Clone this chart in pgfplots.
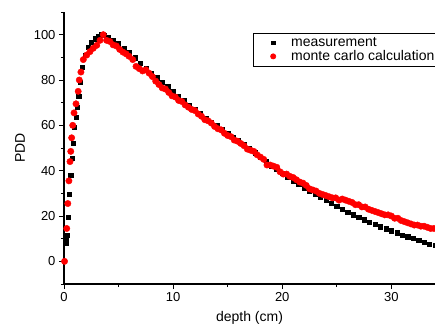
\documentclass[border=0pt]{standalone}
\usepackage{fontspec}
\setmainfont{Liberation Sans}
\usepackage{pgfplots}
\usepackage{pgfplotstable}
\pgfplotsset{compat=1.18}
\pgfplotstableread{
x y
0.15 8
0.22 10
0.3 11.5
0.4 19.5
0.5 29.5
0.62 38
0.75 45.5
0.85 52
0.95 59
1.1 63.5
1.22 68
1.35 73
1.5 79
1.68 85.5
1.92 91
2.2 94.5
2.5 96.7
2.84 98.2
3.1 99.3
3.4 100
3.7 99.6
4.0 99
4.5 97.5
5.0 96
5.5 94
6.0 92
6.5 89.8
7.0 87.5
7.5 85.3
8.0 83
8.5 81
9.0 79
9.5 77
10.0 75
10.5 73
11.0 71
11.5 69
12.0 67
12.5 65.1
13.0 63.2
13.5 61.5
14.0 59.8
14.5 58.1
15.0 56.5
15.5 54.8
16.0 53.2
16.5 51.5
17.0 49.8
17.5 47.9
18.0 45.8
18.5 44
19.0 42.2
19.5 40.5
20.0 38.8
20.5 37.1
21.0 35.5
21.5 33.9
22.0 32.4
22.5 31
23.0 29.6
23.5 28.2
24.0 26.8
24.5 25.5
25.0 24.2
25.5 23
26.0 21.8
26.5 20.6
27.0 19.5
27.5 18.4
28.0 17.3
28.5 16.3
29.0 15.3
29.5 14.4
30.0 13.5
30.5 12.6
31.0 11.7
31.5 10.9
32.0 10.1
32.5 9.3
33.0 8.5
33.5 7.7
34.0 7
34.5 6.3
}\measurement
\pgfplotstableread{
x y
0.05 0
0.25 14.5
0.35 25.5
0.45 35.5
0.55 44
0.62 48.5
0.7 54.5
0.8 60
0.92 65.5
1.1 69.5
1.3 75
1.4 80
1.55 83.5
1.77 89
2.08 91
2.38 92.5
2.68 94
3.0 95.3
3.3 97.5
3.6 100
3.9 97.5
4.2 97
4.5 95.5
4.8 95
5.1 93.5
5.4 92.3
5.7 91.5
5.95 90.5
6.3 89
6.6 86
6.9 85
7.2 84
7.5 84.5
7.8 83
8.1 81.5
8.4 79.5
8.7 78
9.0 76.5
9.3 76
9.6 74.5
9.9 73
10.2 72.5
10.5 71
10.8 70.5
11.1 69
11.4 68
11.7 67
12.0 66.5
12.3 65
12.6 64
12.9 62.5
13.2 62
13.5 61
13.8 59.5
14.1 58.5
14.4 58
14.7 56.5
15.0 55.5
15.3 55
15.6 53.5
15.9 53
16.2 52
16.5 51
16.8 49.5
17.1 49
17.4 48.5
17.7 47
18.0 46
18.3 45
18.6 42.5
18.9 42.5
19.2 42
19.5 41.5
19.8 39.5
20.1 38.5
20.4 38.5
20.7 37.5
21.0 37
21.3 36
21.6 35
21.9 34.5
22.2 33.5
22.5 32
22.8 31.5
23.1 31
23.4 30
23.7 29.5
24.0 29
24.3 28.5
24.6 28
24.9 28
25.2 27
25.5 27.5
25.8 27
26.1 26.5
26.4 26
26.7 25
27.0 25
27.3 24
27.6 24
27.9 23
28.2 22.5
28.5 22
28.8 21.5
29.1 21
29.4 20.5
29.7 20.5
30.0 20
30.3 19
30.6 19
30.9 18
31.2 17.5
31.5 17
31.8 16.5
32.1 16
32.4 16
32.7 15.5
33.0 15.5
33.3 15
33.6 14.5
33.9 14.5
34.2 14
34.5 14
}\montecarlo
\begin{document}
\begin{tikzpicture}
\path[use as bounding box] (-64pt,-42pt) rectangle (371pt,284pt);
\clip (-64pt,-42pt) rectangle (371pt,284pt);
\begin{axis}[
 at={(0,0)}, anchor=south west,
 scale only axis, width=371pt, height=272pt,
 xmin=0, xmax=34, ymin=-10, ymax=110,
 axis x line=bottom, axis y line=left,
 axis line style={line width=1.3pt, -},
 xtick={0,10,20,30,40}, ytick={0,20,...,100},
 minor xtick={5,15,25,35}, minor ytick={-10,10,30,50,70,90,110},
 tick align=outside, major tick length=5pt, minor tick length=3pt,
 every tick/.style={black, line width=0.9pt},
 tick label style={font=\fontsize{13}{15}\selectfont},
 label style={font=\fontsize{14}{16}\selectfont},
 xlabel style={yshift=-3pt},
 ylabel style={yshift=2pt},
 /pgf/number format/assume math mode=true,
 xlabel={depth (cm)}, ylabel={PDD},
 legend style={at={(rel axis cs:0.509,0.924)}, anchor=north west, draw=black, line width=0.7pt, font=\fontsize{14}{14}\selectfont, inner xsep=1pt, inner ysep=2.5pt, row sep=-1.5pt, fill=white},
 legend cell align=left,
 legend image code/.code={\path[draw=none,fill=none] (0,-2pt) rectangle (35pt,2pt); \draw[#1] plot coordinates {(19pt,0)};},
]
\addplot[only marks, mark=square*, mark size=2.1pt, black, legend image post style={mark size=1.7pt}] table {\measurement};
\addlegendentry{measurement}
\addplot[only marks, mark=*, mark size=3.2pt, draw=red, fill=red, legend image post style={mark size=2.6pt}] table {\montecarlo};
\addlegendentry{monte carlo calculation}
\end{axis}
\end{tikzpicture}
\end{document}
